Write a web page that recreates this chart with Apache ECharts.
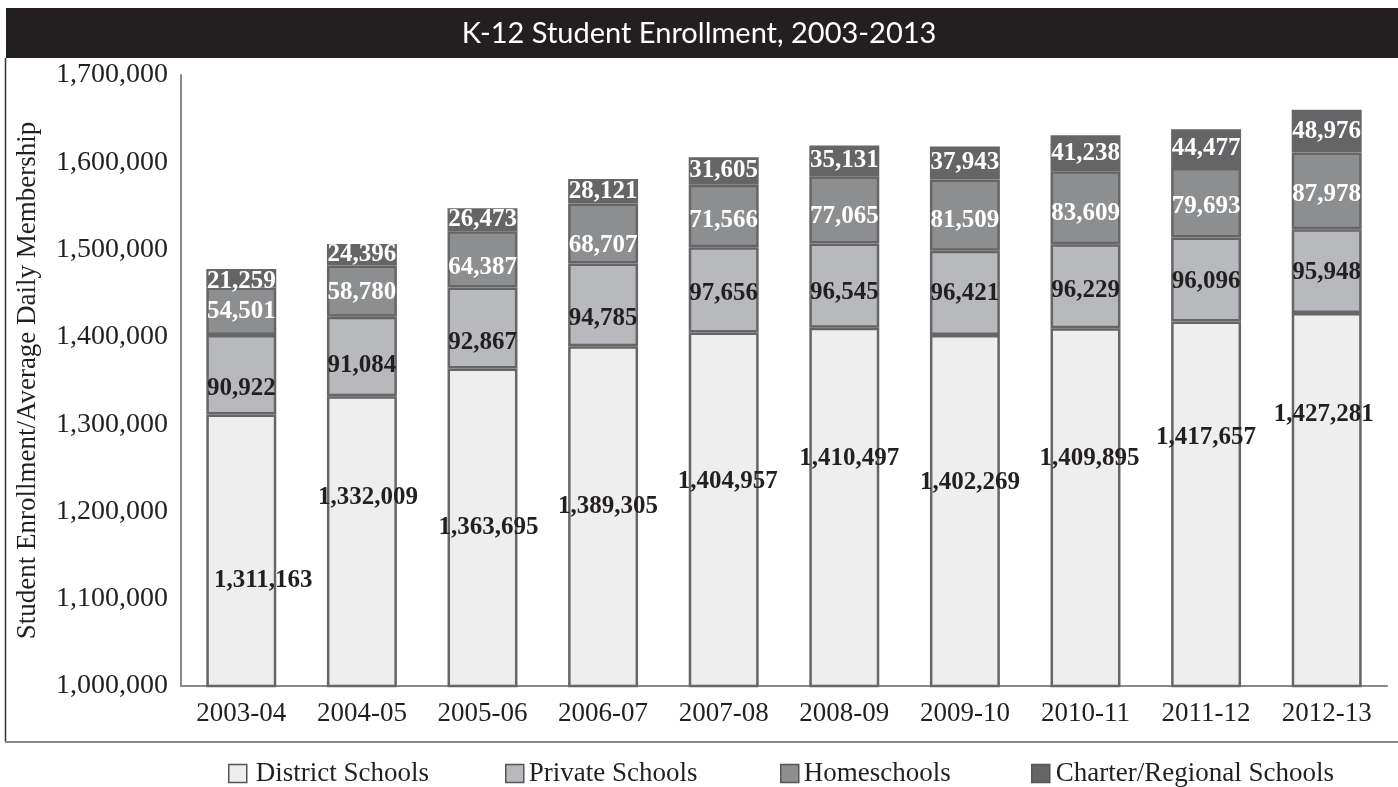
<!DOCTYPE html>
<html>
<head>
<meta charset="utf-8">
<title>K-12 Student Enrollment, 2003-2013</title>
<script src="https://cdn.jsdelivr.net/npm/echarts@6/dist/echarts.min.js"></script>
<style>
  html, body { margin: 0; padding: 0; background: #ffffff; }
  #chart { width: 1398px; height: 787px; }
</style>
</head>
<body>
<div id="chart"></div>
<script>
// School years on the category axis
const years = ['2003-04', '2004-05', '2005-06', '2006-07', '2007-08',
               '2008-09', '2009-10', '2010-11', '2011-12', '2012-13'];

// Enrollment / average daily membership by school type
const district = [1311163, 1332009, 1363695, 1389305, 1404957,
                  1410497, 1402269, 1409895, 1417657, 1427281];
const privateSchools = [90922, 91084, 92867, 94785, 97656,
                        96545, 96421, 96229, 96096, 95948];
const homeschools = [54501, 58780, 64387, 68707, 71566,
                     77065, 81509, 83609, 79693, 87978];
const charter = [21259, 24396, 26473, 28121, 31605,
                 35131, 37943, 41238, 44477, 48976];

const seriesNames = ['District Schools', 'Private Schools', 'Homeschools', 'Charter/Regional Schools'];

// Value-axis range and step
const yMin = 1000000;
const yMax = 1700000;
const yStep = 100000;

// Nudges (px) for the hand-placed value labels
const districtNudgeX = [22, 6, 6, 5, 4, 5, 5, 4, 0, -3];
const districtNudge = [30, -44, 0, -10, -28, -49, -29, -49, -67, -86];
const privateNudge = [14, 9, 15, 14, 4, 7, 1, 4, 2, 1];
const homeNudge = [0, 1, 8, 12, 4, 7, 5, 6, 4, 4];
const charterNudge = [3, 0, 0, 0, 0, 0, 0, 0, 0, 0];
const noNudgeX = [0, 0, 0, 0, 0, 0, 0, 0, 0, 0];

const fills = ['#eeeeee', '#b8b9bc', '#8d8e90', '#656567'];
const labelColors = ['#231f20', '#231f20', '#ffffff', '#ffffff'];
const ink = '#231f20';
const serif = '"Liberation Serif", "Times New Roman", serif';

const fmt = v => Number(v).toLocaleString('en-US');

function buildSeries(name, values, nudgesX, nudgesY, idx) {
  return {
    name: name,
    type: 'bar',
    stack: 'total',
    barCategoryGap: '42%',
    itemStyle: {
      color: fills[idx],
      borderColor: '#666666',
      borderWidth: 2.5
    },
    label: {
      show: true,
      position: 'inside',
      formatter: p => fmt(p.value),
      fontFamily: serif,
      fontWeight: 'bold',
      fontSize: 25,
      color: labelColors[idx]
    },
    data: values.map((v, i) => ({
      value: v,
      label: { offset: [nudgesX[i], nudgesY[i]] }
    }))
  };
}

const chart = echarts.init(document.getElementById('chart'), null, { renderer: 'canvas' });

const legendLefts = [228, 505, 780, 1031];
const legendTextPad = [4, 0, 0, 1];

chart.setOption({
  animation: false,
  backgroundColor: '#ffffff',
  title: {
    text: 'K-12 Student Enrollment, 2003-2013',
    left: 'center',
    top: 14,
    textStyle: {
      color: '#ffffff',
      fontFamily: 'Lato, "Open Sans", sans-serif',
      fontWeight: 'normal',
      fontSize: 29
    }
  },
  legend: seriesNames.map((n, i) => ({
    data: [n],
    left: legendLefts[i],
    top: 760,
    padding: 0,
    itemWidth: 18,
    itemHeight: 18,
    icon: 'rect',
    selectedMode: false,
    itemStyle: { borderColor: '#555555', borderWidth: 1.5 },
    textStyle: { fontFamily: serif, fontSize: 27, color: ink, padding: [0, 0, 0, legendTextPad[i]] }
  })),
  grid: {
    left: 181,
    right: 11,
    top: 75,
    bottom: 101,
    containLabel: false
  },
  xAxis: {
    type: 'category',
    data: years,
    axisLine: { show: true, lineStyle: { color: '#8a8a8a', width: 2 } },
    axisTick: { show: false },
    axisLabel: {
      fontFamily: serif,
      fontSize: 27,
      color: ink,
      margin: 14
    }
  },
  yAxis: {
    type: 'value',
    min: yMin,
    max: yMax,
    interval: yStep,
    name: 'Student Enrollment/Average Daily Membership',
    nameLocation: 'middle',
    nameGap: 140,
    nameTextStyle: {
      fontFamily: serif,
      fontSize: 27,
      color: ink
    },
    axisLine: { show: true, lineStyle: { color: '#8a8a8a', width: 2 } },
    axisTick: { show: false },
    splitLine: { show: false },
    axisLabel: {
      fontFamily: serif,
      fontSize: 28,
      color: ink,
      margin: 13,
      formatter: v => fmt(v)
    }
  },
  graphic: [
    {
      type: 'rect',
      z: -1,
      shape: { x: 6, y: 8, width: 1392, height: 50 },
      style: { fill: '#231f20' }
    },
    {
      type: 'line',
      shape: { x1: 5.5, y1: 58, x2: 5.5, y2: 742 },
      style: { stroke: '#333333', lineWidth: 1.5 }
    },
    {
      type: 'line',
      shape: { x1: 5, y1: 742, x2: 1398, y2: 742 },
      style: { stroke: '#8a8a8a', lineWidth: 2 }
    }
  ],
  series: [
    buildSeries(seriesNames[0], district, districtNudgeX, districtNudge, 0),
    buildSeries(seriesNames[1], privateSchools, noNudgeX, privateNudge, 1),
    buildSeries(seriesNames[2], homeschools, noNudgeX, homeNudge, 2),
    buildSeries(seriesNames[3], charter, noNudgeX, charterNudge, 3)
  ]
});
</script>
</body>
</html>
